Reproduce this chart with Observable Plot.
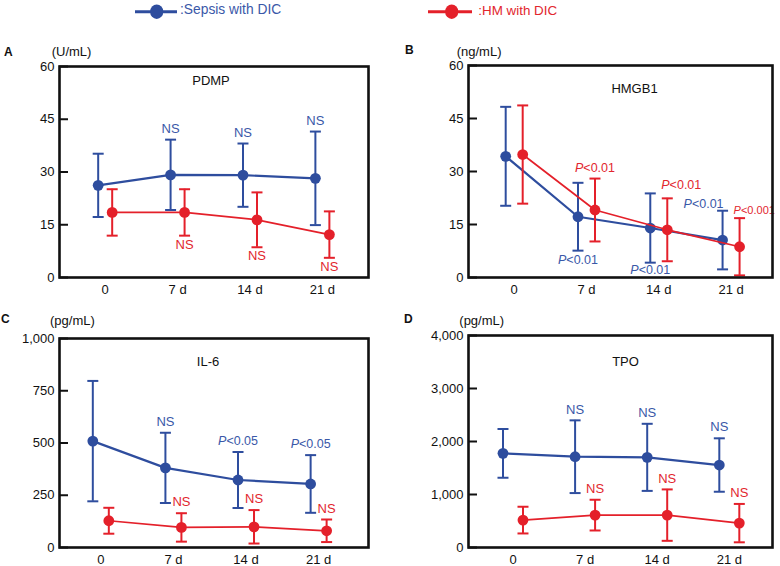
<!DOCTYPE html>
<html><head><meta charset="utf-8">
<script src="https://cdn.jsdelivr.net/npm/d3@7"></script>
<script src="https://cdn.jsdelivr.net/npm/@observablehq/plot@0.6"></script>
<style>
body{margin:0;background:#fff;font-family:"Liberation Sans",Arial,sans-serif;}
#root{position:relative;width:780px;height:566px;overflow:hidden;background:#fff;}
.abs{position:absolute;white-space:nowrap;line-height:1;color:#111;}
.lt{font-weight:bold;font-size:12px;}
.un{font-size:13px;}
</style></head><body><div id="root">
<svg class="abs" style="left:0;top:0" width="780" height="30">
  <line x1="135" x2="177" y1="11.7" y2="11.7" stroke="#2e4d9e" stroke-width="3"/>
  <ellipse cx="156.7" cy="11.7" rx="6.6" ry="7.2" fill="#2e4d9e"/>
  <text x="180" y="10" dominant-baseline="middle" font-size="13.8" fill="#3a58a8" font-family="Liberation Sans, Arial, sans-serif">:Sepsis with DIC</text>
  <line x1="428" x2="472" y1="11.7" y2="11.7" stroke="#e4202a" stroke-width="3"/>
  <ellipse cx="451.7" cy="11.7" rx="6.6" ry="7.2" fill="#e4202a"/>
  <text x="478.3" y="11" dominant-baseline="middle" font-size="13.4" fill="#e2262e" font-family="Liberation Sans, Arial, sans-serif">:HM with DIC</text>
</svg>
<div class="abs lt" style="left:4px;top:46px">A</div>
<div class="abs lt" style="left:405px;top:44px">B</div>
<div class="abs lt" style="left:1px;top:313px">C</div>
<div class="abs lt" style="left:404px;top:313px">D</div>
<div class="abs un" style="left:51.7px;top:45px">(U/mL)</div>
<div class="abs un" style="left:456.7px;top:45px">(ng/mL)</div>
<div class="abs un" style="left:50px;top:314px">(pg/mL)</div>
<div class="abs un" style="left:459.3px;top:314px">(pg/mL)</div>
</div>
<script>
// ---------- data ----------
const days = ["0", "7 d", "14 d", "21 d"];

// A: PDMP (U/mL)
const pdmpSepsisMean = [26.2, 29.2, 29.1, 28.2];
const pdmpSepsisSD   = [9.0, 10.0, 9.0, 13.3];
const pdmpHmMean     = [18.5, 18.5, 16.4, 12.2];
const pdmpHmSD       = [6.6, 6.6, 7.8, 6.6];
const pdmpTicks      = [0, 15, 30, 45, 60];
const pdmpNotes = [
  {s: 0, d: 1, text: "NS", side: "above", align: "middle"},
  {s: 0, d: 2, text: "NS", side: "above", align: "middle"},
  {s: 0, d: 3, text: "NS", side: "above", align: "middle"},
  {s: 1, d: 1, text: "NS", side: "below", align: "middle"},
  {s: 1, d: 2, text: "NS", side: "below", align: "middle"},
  {s: 1, d: 3, text: "NS", side: "below", align: "middle"}
];

// B: HMGB1 (ng/mL)
const hmgbSepsisMean = [34.3, 17.2, 14.0, 10.6];
const hmgbSepsisSD   = [14.0, 9.6, 9.8, 8.3];
const hmgbHmMean     = [34.8, 19.1, 13.5, 8.7];
const hmgbHmSD       = [13.9, 8.9, 8.9, 8.1];
const hmgbTicks      = [0, 15, 30, 45, 60];
const hmgbNotes = [
  {s: 0, d: 1, text: "P<0.01", side: "below", align: "middle"},
  {s: 1, d: 1, text: "P<0.01", side: "above", align: "middle"},
  {s: 0, d: 2, text: "P<0.01", side: "below", align: "middle"},
  {s: 1, d: 2, text: "P<0.01", side: "above", align: "start"},
  {s: 0, d: 3, text: "P<0.01", side: "above", align: "end"},
  {s: 1, d: 3, text: "P<0.001", side: "above", align: "start"}
];

// C: IL-6 (pg/mL)
const il6SepsisMean = [509, 381, 323, 304];
const il6SepsisSD   = [288, 168, 134, 138];
const il6HmMean     = [128, 96, 99, 80];
const il6HmSD       = [62, 68, 80, 54];
const il6Ticks      = [0, 250, 500, 750, 1000];
const il6Notes = [
  {s: 0, d: 1, text: "NS", side: "above", align: "middle"},
  {s: 0, d: 2, text: "P<0.05", side: "above", align: "middle"},
  {s: 0, d: 3, text: "P<0.05", side: "above", align: "middle"},
  {s: 1, d: 1, text: "NS", side: "above", align: "middle"},
  {s: 1, d: 2, text: "NS", side: "above", align: "middle"},
  {s: 1, d: 3, text: "NS", side: "above", align: "middle"}
];

// D: TPO (pg/mL)
const tpoSepsisMean = [1776, 1713, 1701, 1556];
const tpoSepsisSD   = [460, 686, 633, 504];
const tpoHmMean     = [517, 611, 611, 460];
const tpoHmSD       = [252, 290, 485, 362];
const tpoTicks      = [0, 1000, 2000, 3000, 4000];
const tpoNotes = [
  {s: 0, d: 1, text: "NS", side: "above", align: "middle"},
  {s: 0, d: 2, text: "NS", side: "above", align: "middle"},
  {s: 0, d: 3, text: "NS", side: "above", align: "middle"},
  {s: 1, d: 1, text: "NS", side: "above", align: "middle"},
  {s: 1, d: 2, text: "NS", side: "above", align: "middle"},
  {s: 1, d: 3, text: "NS", side: "above", align: "middle"}
];

// ---------- styles ----------
const BLUE = "#2e4d9e", RED = "#e4202a";
const BLUE_TXT = "#3a58a8", RED_TXT = "#e2262e";
const capSymbol = {draw(ctx, size) { const w = Math.sqrt(size / Math.PI); ctx.moveTo(-w, 0); ctx.lineTo(w, 0); }};

function panel(cfg) {
  const plotW = cfg.width - cfg.marginLeft - cfg.marginRight;
  const groups = [
    {data: cfg.sMean.map((m, i) => ({i, mean: m, sd: cfg.sSD[i]})), color: BLUE, txt: BLUE_TXT, dx: -cfg.off, lw: 2.2},
    {data: cfg.hMean.map((m, i) => ({i, mean: m, sd: cfg.hSD[i]})), color: RED, txt: RED_TXT, dx: cfg.off, lw: 1.7}
  ];
  const marks = [];
  for (const g of groups) {
    marks.push(Plot.line(g.data, {x: "i", y: "mean", dx: g.dx, stroke: g.color, strokeWidth: g.lw}));
    marks.push(Plot.ruleX(g.data, {x: "i", y1: d => d.mean - d.sd, y2: d => d.mean + d.sd, dx: g.dx, stroke: g.color, strokeWidth: 2}));
    marks.push(Plot.dot(g.data, {x: "i", y: d => d.mean + d.sd, dx: g.dx, r: 5.5, symbol: capSymbol, stroke: g.color, strokeWidth: 2, fill: "none"}));
    marks.push(Plot.dot(g.data, {x: "i", y: d => d.mean - d.sd, dx: g.dx, r: 5.5, symbol: capSymbol, stroke: g.color, strokeWidth: 2, fill: "none"}));
    marks.push(Plot.dot(g.data, {x: "i", y: "mean", dx: g.dx, r: 5.4, fill: g.color, stroke: "none"}));
  }
  const dyOverride = cfg.noteDy || {};
  for (const n of cfg.notes) {
    const g = groups[n.s];
    const row = g.data[n.d];
    const alignDx = n.align === "start" ? -6 : n.align === "end" ? 1 : 0;
    const key = n.s + "-" + n.d;
    marks.push(Plot.text([n], {
      x: "d",
      y: () => n.side === "above" ? row.mean + row.sd : row.mean - row.sd,
      text: "text",
      dx: g.dx + alignDx,
      dy: key in dyOverride ? dyOverride[key] : (n.side === "above" ? -11 : 9),
      textAnchor: n.align,
      lineAnchor: "middle",
      fill: g.txt,
      fontSize: n.text.length > 6 ? 11 : n.text.length > 2 ? 12.5 : 13
    }));
  }
  marks.push(Plot.text([cfg.title], {frameAnchor: "top", lineAnchor: "middle", dx: cfg.titleDx, dy: cfg.titleDy, fontSize: 13, fill: "#111"}));
  marks.push(Plot.tickY(cfg.ticks, {y: d => d, stroke: "#111", strokeWidth: 2, insetRight: plotW - 9}));
  marks.push(Plot.axisY({ticks: cfg.ticks, tickFormat: cfg.fmt, tickSize: 0, tickPadding: 5, fontSize: 13, label: null, fill: "#111"}));
  marks.push(Plot.axisX({ticks: [0, 1, 2, 3], tickFormat: i => days[i], tickSize: 0, tickPadding: 7, fontSize: 13, label: null, fill: "#111"}));
  marks.push(Plot.frame({stroke: "#111", strokeWidth: 2.6}));

  const svg = Plot.plot({
    width: cfg.width, height: cfg.height,
    marginLeft: cfg.marginLeft, marginRight: cfg.marginRight,
    marginTop: cfg.marginTop, marginBottom: cfg.marginBottom,
    x: {type: "linear", domain: cfg.xDomain},
    y: {type: "linear", domain: cfg.yDomain},
    style: {fontFamily: "Liberation Sans, Arial, sans-serif", fontSize: "13px", background: "transparent", overflow: "visible", color: "#111"},
    marks
  });
  // italic "P" in p-value labels
  d3.select(svg).selectAll('g[aria-label="text"] text').each(function() {
    const t = this.textContent;
    if (/^P</.test(t)) {
      this.textContent = "";
      d3.select(this).append("tspan").attr("font-style", "italic").text("P");
      d3.select(this).append("tspan").text(t.slice(1));
    }
  });
  svg.style.position = "absolute";
  svg.style.left = cfg.left + "px";
  svg.style.top = cfg.top + "px";
  document.getElementById("root").appendChild(svg);
}

const intFmt = d3.format("d"), commaFmt = d3.format(",");

panel({left: 0, top: 40, width: 390, height: 264, marginLeft: 59, marginRight: 22, marginTop: 26, marginBottom: 27,
  xDomain: [-0.631, 3.637], yDomain: [0, 60], ticks: pdmpTicks, fmt: intFmt, off: 7,
  sMean: pdmpSepsisMean, sSD: pdmpSepsisSD, hMean: pdmpHmMean, hSD: pdmpHmSD, notes: pdmpNotes,
  title: "PDMP", titleDx: -3, titleDy: 14});
panel({left: 390, top: 40, width: 390, height: 264, marginLeft: 78, marginRight: 8, marginTop: 25, marginBottom: 27,
  xDomain: [-0.632, 3.573], yDomain: [0, 60], ticks: hmgbTicks, fmt: intFmt, off: 8.5,
  sMean: hmgbSepsisMean, sSD: hmgbSepsisSD, hMean: hmgbHmMean, hSD: hmgbHmSD, notes: hmgbNotes,
  noteDy: {"1-2": -13, "0-3": -7, "1-3": -8, "0-2": 7},
  title: "HMGB1", titleDx: 14, titleDy: 23});
panel({left: 0, top: 305, width: 390, height: 261, marginLeft: 59, marginRight: 22, marginTop: 33, marginBottom: 19,
  xDomain: [-0.569, 3.687], yDomain: [0, 1000], ticks: il6Ticks, fmt: commaFmt, off: 8,
  sMean: il6SepsisMean, sSD: il6SepsisSD, hMean: il6HmMean, hSD: il6HmSD, notes: il6Notes,
  title: "IL-6", titleDx: -6, titleDy: 23});
panel({left: 390, top: 305, width: 390, height: 261, marginLeft: 78, marginRight: 8, marginTop: 30, marginBottom: 19,
  xDomain: [-0.617, 3.599], yDomain: [0, 4000], ticks: tpoTicks, fmt: commaFmt, off: 10,
  sMean: tpoSepsisMean, sSD: tpoSepsisSD, hMean: tpoHmMean, hSD: tpoHmSD, notes: tpoNotes,
  title: "TPO", titleDx: 5, titleDy: 26});
</script>
</body></html>
